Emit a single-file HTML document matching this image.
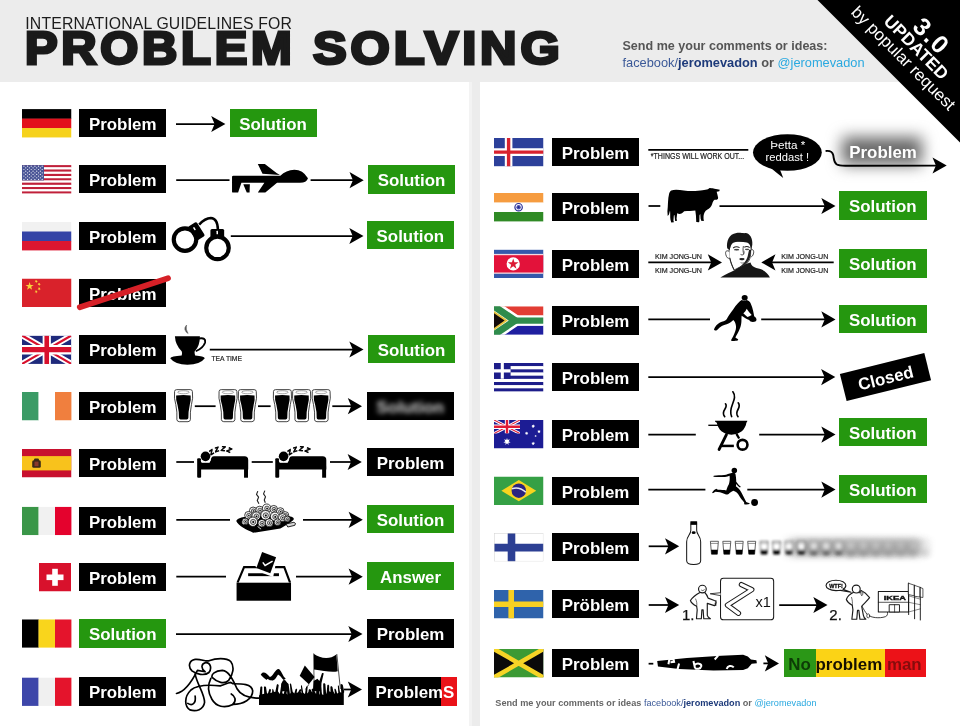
<!DOCTYPE html>
<html lang="en">
<head>
<meta charset="utf-8">
<title>International Guidelines for Problem Solving</title>
<style>
html,body{margin:0;padding:0;}
body{width:960px;height:726px;overflow:hidden;background:#ececec;font-family:"Liberation Sans",sans-serif;}
#page{opacity:0.999;position:relative;width:960px;height:726px;overflow:hidden;background:#ececec;}
.panel{position:absolute;top:82px;height:644px;background:#fff;}
#pl{left:0;width:472px;background:linear-gradient(90deg,#fff 0,#fff 469px,#f3f3f3 469px,#f3f3f3 100%);}
#pr{left:480px;width:480px;}
.t1{position:absolute;left:25.3px;top:14.5px;letter-spacing:0.15px;font-size:15.8px;line-height:18px;color:#1c1c1c;white-space:nowrap;transform-origin:0 0;}
.t2{position:absolute;top:21.2px;font-size:45.5px;line-height:56px;font-weight:bold;color:#1a1a1a;white-space:nowrap;transform-origin:0 0;-webkit-text-stroke:3px #1a1a1a;letter-spacing:3.5px;}
.b{position:absolute;width:87.1px;height:28.3px;line-height:32.2px;background:#000;color:#fff;font-weight:bold;font-size:16.9px;text-align:center;white-space:nowrap;}
.g{background:#25970f;}
.f{position:absolute;width:49.5px;height:28.5px;overflow:hidden;}
.f svg{display:block;width:100%;height:100%;}
#art{position:absolute;left:0;top:0;}
.hd{position:absolute;white-space:nowrap;font-weight:bold;font-size:11.5px;color:#555;}
.fb{color:#3b5998;}
.fbd{color:#1d3a7a;}
.tw{color:#2aa9e0;}
</style>
</head>
<body>
<div id="page">
<div class="panel" id="pl"></div>
<div class="panel" id="pr"></div>

<div class="t1">INTERNATIONAL GUIDELINES FOR</div>
<div class="t2" style="left:24.5px;transform:scaleX(1.073)">PROBLEM</div>
<div class="t2" style="left:313px;transform:scaleX(1.109)">SOLVING</div>

<div class="hd" id="h1" style="left:622.5px;top:38.5px;font-size:12.55px;">Send me your comments or ideas:</div>
<div class="hd" id="h2" style="left:622.5px;top:55px;font-size:12.8px;"><span class="fb" style="font-weight:normal">facebook/</span><span class="fbd">jeromevadon</span> or <span class="tw" style="font-weight:normal">@jeromevadon</span></div>

<!-- LEFT COLUMN BOXES -->
<div class="b" style="left:79.2px;top:109.1px">Problem</div>
<div class="b g" style="left:229.5px;top:109.1px">Solution</div>
<div class="b" style="left:79.2px;top:165.1px">Problem</div>
<div class="b g" style="left:368px;top:165.3px">Solution</div>
<div class="b" style="left:79.2px;top:222px">Problem</div>
<div class="b g" style="left:366.8px;top:221px">Solution</div>
<div class="b" style="left:79.2px;top:278.5px">Problem</div>
<div class="b" style="left:79.2px;top:335.4px">Problem</div>
<div class="b g" style="left:368px;top:335px">Solution</div>
<div class="b" style="left:79.2px;top:392px">Problem</div>
<div class="b" style="left:79.2px;top:449px">Problem</div>
<div class="b" style="left:367px;top:447.5px">Problem</div>
<div class="b" style="left:79.2px;top:506.7px">Problem</div>
<div class="b g" style="left:367px;top:505px">Solution</div>
<div class="b" style="left:79.2px;top:563px">Problem</div>
<div class="b g" style="left:367px;top:562px">Answer</div>
<div class="b g" style="left:79.2px;top:619.3px">Solution</div>
<div class="b" style="left:367px;top:619.4px">Problem</div>
<div class="b" style="left:79.2px;top:677.4px">Problem</div>

<!-- RIGHT COLUMN BOXES -->
<div class="b" style="left:552px;top:137.9px">Problem</div>
<div class="b" style="left:552px;top:193px">Problem</div>
<div class="b g" style="left:839px;top:191.3px;width:87.5px">Solution</div>
<div class="b" style="left:552px;top:249.6px">Problem</div>
<div class="b g" style="left:839px;top:249.3px;width:87.5px">Solution</div>
<div class="b" style="left:552px;top:306.3px">Problem</div>
<div class="b g" style="left:839px;top:305px;width:87.5px">Solution</div>
<div class="b" style="left:552px;top:363px">Problem</div>
<div class="b" style="left:552px;top:420px">Problem</div>
<div class="b g" style="left:839px;top:418px;width:87.5px">Solution</div>
<div class="b" style="left:552px;top:476.5px">Problem</div>
<div class="b g" style="left:839px;top:475.2px;width:87.5px">Solution</div>
<div class="b" style="left:552px;top:533px">Problem</div>
<div class="b" style="left:552px;top:590px">Pröblem</div>
<div class="b" style="left:552px;top:649px">Problem</div>

<!-- SPECIAL BOXES -->
<div class="b" style="left:366.5px;top:391.6px;width:87.5px;height:28.2px"><span style="display:inline-block;filter:blur(2.7px);color:#d0d0d0">Solution</span></div>
<div class="b" style="left:368px;top:677.3px;width:88.5px;text-align:left;background:linear-gradient(90deg,#000 0,#000 73.2px,#ea1218 73.2px,#ea1218 100%)"><span style="padding-left:7.5px">ProblemS</span></div>
<div class="b" style="left:841.7px;top:362.9px;transform:rotate(-13.9deg)">Closed</div>
<div style="position:absolute;left:842px;top:137px;width:80px;height:28px;background:#686868;filter:blur(7.5px)"></div>
<div class="b" style="left:839.5px;top:137px;background:none">Problem</div>
<div class="b" style="left:784.2px;top:649.2px;width:141.6px;height:28.3px;color:#161000;background:linear-gradient(90deg,#2b9717 0,#2b9717 31.6px,#fbd316 31.6px,#fbd316 100.8px,#ec1218 100.8px,#ec1218 100%)"><span style="color:#0d3b06">No</span> problem <span style="color:#860c0c">man</span></div>
<div class="hd" id="ft" style="left:495.3px;top:698px;font-size:9.15px;color:#666">Send me your comments or ideas <span class="fb" style="font-weight:normal">facebook/</span><span class="fbd">jeromevadon</span> or <span class="tw" style="font-weight:normal">@jeromevadon</span></div>

<svg id="art" width="960" height="726" viewBox="0 0 960 726">
<defs>
<path id="hd" d="M0,0 L-14.2,-8.1 L-10.8,0 L-14.2,8.1 Z" fill="#000" stroke="none"/>
</defs>
<g id="flags">
<svg x="22" y="109.1" width="49.5" height="28.5" viewBox="0 0 49.5 28.5" overflow="hidden"><rect x="0" y="0.00" width="49.5" height="9.80" fill="#000"/><rect x="0" y="9.50" width="49.5" height="9.80" fill="#e3101c"/><rect x="0" y="19.00" width="49.5" height="9.80" fill="#f6d21c"/></svg>
<svg x="22" y="165.1" width="49.5" height="28.5" viewBox="0 0 49.5 28.5" overflow="hidden"><rect x="0" y="0.00" width="49.5" height="2.39" fill="#c0203a"/><rect x="0" y="2.19" width="49.5" height="2.39" fill="#fff"/><rect x="0" y="4.38" width="49.5" height="2.39" fill="#c0203a"/><rect x="0" y="6.58" width="49.5" height="2.39" fill="#fff"/><rect x="0" y="8.77" width="49.5" height="2.39" fill="#c0203a"/><rect x="0" y="10.96" width="49.5" height="2.39" fill="#fff"/><rect x="0" y="13.15" width="49.5" height="2.39" fill="#c0203a"/><rect x="0" y="15.35" width="49.5" height="2.39" fill="#fff"/><rect x="0" y="17.54" width="49.5" height="2.39" fill="#c0203a"/><rect x="0" y="19.73" width="49.5" height="2.39" fill="#fff"/><rect x="0" y="21.92" width="49.5" height="2.39" fill="#c0203a"/><rect x="0" y="24.12" width="49.5" height="2.39" fill="#fff"/><rect x="0" y="26.31" width="49.5" height="2.39" fill="#c0203a"/><rect x="0" y="0" width="22" height="15.35" fill="#4a5596"/><circle cx="1.90" cy="1.10" r="0.62" fill="#e8eaf4"/><circle cx="5.56" cy="1.10" r="0.62" fill="#e8eaf4"/><circle cx="9.22" cy="1.10" r="0.62" fill="#e8eaf4"/><circle cx="12.88" cy="1.10" r="0.62" fill="#e8eaf4"/><circle cx="16.54" cy="1.10" r="0.62" fill="#e8eaf4"/><circle cx="20.20" cy="1.10" r="0.62" fill="#e8eaf4"/><circle cx="3.73" cy="2.75" r="0.62" fill="#e8eaf4"/><circle cx="7.39" cy="2.75" r="0.62" fill="#e8eaf4"/><circle cx="11.05" cy="2.75" r="0.62" fill="#e8eaf4"/><circle cx="14.71" cy="2.75" r="0.62" fill="#e8eaf4"/><circle cx="18.37" cy="2.75" r="0.62" fill="#e8eaf4"/><circle cx="1.90" cy="4.40" r="0.62" fill="#e8eaf4"/><circle cx="5.56" cy="4.40" r="0.62" fill="#e8eaf4"/><circle cx="9.22" cy="4.40" r="0.62" fill="#e8eaf4"/><circle cx="12.88" cy="4.40" r="0.62" fill="#e8eaf4"/><circle cx="16.54" cy="4.40" r="0.62" fill="#e8eaf4"/><circle cx="20.20" cy="4.40" r="0.62" fill="#e8eaf4"/><circle cx="3.73" cy="6.05" r="0.62" fill="#e8eaf4"/><circle cx="7.39" cy="6.05" r="0.62" fill="#e8eaf4"/><circle cx="11.05" cy="6.05" r="0.62" fill="#e8eaf4"/><circle cx="14.71" cy="6.05" r="0.62" fill="#e8eaf4"/><circle cx="18.37" cy="6.05" r="0.62" fill="#e8eaf4"/><circle cx="1.90" cy="7.70" r="0.62" fill="#e8eaf4"/><circle cx="5.56" cy="7.70" r="0.62" fill="#e8eaf4"/><circle cx="9.22" cy="7.70" r="0.62" fill="#e8eaf4"/><circle cx="12.88" cy="7.70" r="0.62" fill="#e8eaf4"/><circle cx="16.54" cy="7.70" r="0.62" fill="#e8eaf4"/><circle cx="20.20" cy="7.70" r="0.62" fill="#e8eaf4"/><circle cx="3.73" cy="9.35" r="0.62" fill="#e8eaf4"/><circle cx="7.39" cy="9.35" r="0.62" fill="#e8eaf4"/><circle cx="11.05" cy="9.35" r="0.62" fill="#e8eaf4"/><circle cx="14.71" cy="9.35" r="0.62" fill="#e8eaf4"/><circle cx="18.37" cy="9.35" r="0.62" fill="#e8eaf4"/><circle cx="1.90" cy="11.00" r="0.62" fill="#e8eaf4"/><circle cx="5.56" cy="11.00" r="0.62" fill="#e8eaf4"/><circle cx="9.22" cy="11.00" r="0.62" fill="#e8eaf4"/><circle cx="12.88" cy="11.00" r="0.62" fill="#e8eaf4"/><circle cx="16.54" cy="11.00" r="0.62" fill="#e8eaf4"/><circle cx="20.20" cy="11.00" r="0.62" fill="#e8eaf4"/><circle cx="3.73" cy="12.65" r="0.62" fill="#e8eaf4"/><circle cx="7.39" cy="12.65" r="0.62" fill="#e8eaf4"/><circle cx="11.05" cy="12.65" r="0.62" fill="#e8eaf4"/><circle cx="14.71" cy="12.65" r="0.62" fill="#e8eaf4"/><circle cx="18.37" cy="12.65" r="0.62" fill="#e8eaf4"/><circle cx="1.90" cy="14.30" r="0.62" fill="#e8eaf4"/><circle cx="5.56" cy="14.30" r="0.62" fill="#e8eaf4"/><circle cx="9.22" cy="14.30" r="0.62" fill="#e8eaf4"/><circle cx="12.88" cy="14.30" r="0.62" fill="#e8eaf4"/><circle cx="16.54" cy="14.30" r="0.62" fill="#e8eaf4"/><circle cx="20.20" cy="14.30" r="0.62" fill="#e8eaf4"/></svg>
<svg x="22" y="222" width="49.5" height="28.5" viewBox="0 0 49.5 28.5" overflow="hidden"><rect x="0" y="0.00" width="49.5" height="9.80" fill="#f1f1f1"/><rect x="0" y="9.50" width="49.5" height="9.80" fill="#3443a6"/><rect x="0" y="19.00" width="49.5" height="9.80" fill="#dc1630"/></svg>
<svg x="22" y="278.5" width="49.5" height="28.5" viewBox="0 0 49.5 28.5" overflow="hidden"><rect width="49.5" height="28.5" fill="#d9222b"/><polygon points="7.60,3.50 8.57,6.47 11.69,6.47 9.16,8.31 10.13,11.28 7.60,9.44 5.07,11.28 6.04,8.31 3.51,6.47 6.63,6.47" fill="#f9d23c"/><polygon points="15.10,1.34 14.83,2.62 15.96,3.27 14.66,3.41 14.39,4.69 13.86,3.50 12.56,3.63 13.53,2.76 13.00,1.56 14.13,2.22" fill="#f9d23c"/><polygon points="18.10,4.24 17.83,5.52 18.96,6.17 17.66,6.31 17.39,7.59 16.86,6.40 15.56,6.53 16.53,5.66 16.00,4.46 17.13,5.12" fill="#f9d23c"/><polygon points="18.10,8.74 17.83,10.02 18.96,10.67 17.66,10.81 17.39,12.09 16.86,10.90 15.56,11.03 16.53,10.16 16.00,8.96 17.13,9.62" fill="#f9d23c"/><polygon points="15.10,11.64 14.83,12.92 15.96,13.57 14.66,13.71 14.39,14.99 13.86,13.80 12.56,13.93 13.53,13.06 13.00,11.86 14.13,12.52" fill="#f9d23c"/></svg>
<svg x="22" y="335.4" width="49.5" height="28.5" viewBox="0 0 49.5 28.5" overflow="hidden"><svg x="0" y="0" width="49.5" height="28.5" viewBox="0 0 60 30" preserveAspectRatio="none" overflow="hidden"><rect width="60" height="30" fill="#1f2a7c"/><path d="M0,0 L60,30 M60,0 L0,30" stroke="#fff" stroke-width="6.5"/><path d="M0,0 L60,30 M60,0 L0,30" stroke="#d8102d" stroke-width="2.4"/><path d="M30,0 V30 M0,15 H60" stroke="#fff" stroke-width="10"/><path d="M30,0 V30 M0,15 H60" stroke="#d8102d" stroke-width="5.6"/></svg></svg>
<svg x="22" y="392" width="49.5" height="28.5" viewBox="0 0 49.5 28.5" overflow="hidden"><rect x="0.00" y="0" width="16.80" height="28.5" fill="#3b9b66"/><rect x="16.50" y="0" width="16.80" height="28.5" fill="#ffffff"/><rect x="33.00" y="0" width="16.80" height="28.5" fill="#f07f3e"/></svg>
<svg x="22" y="449" width="49.5" height="28.5" viewBox="0 0 49.5 28.5" overflow="hidden"><rect width="49.5" height="28.5" fill="#c8102e"/><rect y="7.1" width="49.5" height="14.3" fill="#f8c21c"/><g fill="#3a2a18"><rect x="10.2" y="11.2" width="8.6" height="7.6" rx="1.5"/><rect x="12" y="9.6" width="5" height="3" rx="1.2"/></g><rect x="12.5" y="12.6" width="4" height="4.6" fill="#8a3a2a"/></svg>
<svg x="22" y="506.7" width="49.5" height="28.5" viewBox="0 0 49.5 28.5" overflow="hidden"><rect x="0.00" y="0" width="16.80" height="28.5" fill="#3a9648"/><rect x="16.50" y="0" width="16.80" height="28.5" fill="#f1f1f1"/><rect x="33.00" y="0" width="16.80" height="28.5" fill="#e4022d"/></svg>
<svg x="39" y="563" width="32" height="28.5" viewBox="0 0 32 28.5" overflow="hidden"><rect width="32" height="28.5" fill="#d8112c"/><rect x="13.2" y="5.8" width="5.6" height="17" fill="#fff"/><rect x="7.5" y="11.5" width="17" height="5.6" fill="#fff"/></svg>
<svg x="22" y="619.3" width="49.5" height="28.5" viewBox="0 0 49.5 28.5" overflow="hidden"><rect x="0.00" y="0" width="16.80" height="28.5" fill="#000"/><rect x="16.50" y="0" width="16.80" height="28.5" fill="#f9d51c"/><rect x="33.00" y="0" width="16.80" height="28.5" fill="#e4142c"/></svg>
<svg x="22" y="677.4" width="49.5" height="28.5" viewBox="0 0 49.5 28.5" overflow="hidden"><rect x="0.00" y="0" width="16.80" height="28.5" fill="#3d46a9"/><rect x="16.50" y="0" width="16.80" height="28.5" fill="#f0f0f0"/><rect x="33.00" y="0" width="16.80" height="28.5" fill="#e4142c"/></svg>
<svg x="494" y="137.9" width="49.5" height="28.5" viewBox="0 0 49.5 28.5" overflow="hidden"><rect width="49.5" height="28.5" fill="#2c409a"/><path d="M14.6,0 V28.5 M0,14.2 H49.5" stroke="#fff" stroke-width="7.6"/><path d="M14.6,0 V28.5 M0,14.2 H49.5" stroke="#d8222f" stroke-width="3.4"/></svg>
<svg x="494" y="193" width="49.5" height="28.5" viewBox="0 0 49.5 28.5" overflow="hidden"><rect x="0" y="0.00" width="49.5" height="9.80" fill="#f69c40"/><rect x="0" y="9.50" width="49.5" height="9.80" fill="#ffffff"/><rect x="0" y="19.00" width="49.5" height="9.80" fill="#2f8a25"/><circle cx="24.6" cy="14.2" r="3.7" fill="#fff" stroke="#2a2f95" stroke-width="1.2"/><circle cx="24.6" cy="14.2" r="2.2" fill="#4a4fae"/><circle cx="24.6" cy="14.2" r="0.9" fill="#1e2285"/></svg>
<svg x="494" y="249.6" width="49.5" height="28.5" viewBox="0 0 49.5 28.5" overflow="hidden"><rect width="49.5" height="28.5" fill="#3558aa"/><rect y="4.3" width="49.5" height="19.9" fill="#f4d8e0"/><rect y="5.6" width="49.5" height="17.3" fill="#e3123a"/><circle cx="19.2" cy="14.3" r="6.6" fill="#fff"/><polygon points="19.20,8.90 20.46,12.77 24.53,12.77 21.23,15.16 22.49,19.03 19.20,16.64 15.91,19.03 17.17,15.16 13.87,12.77 17.94,12.77" fill="#dc1a35"/></svg>
<svg x="494" y="306.3" width="49.5" height="28.5" viewBox="0 0 49.5 28.5" overflow="hidden"><rect width="49.5" height="28.5" fill="#fff"/><rect width="49.5" height="9.2" fill="#e23d34"/><rect y="19.3" width="49.5" height="9.2" fill="#1f1fa0"/><path d="M0,0 L21,14.25 L0,28.5" fill="none" stroke="#fff" stroke-width="12"/><path d="M21,14.25 H49.5" stroke="#fff" stroke-width="10.2"/><path d="M-3,-2 L21,14.25 L-3,30.5" fill="none" stroke="#2f8c4c" stroke-width="7"/><path d="M20,14.25 H49.5" stroke="#2f8c4c" stroke-width="6.2"/><polygon points="0,4.6 13.8,14.25 0,23.9" fill="#e6c23c"/><polygon points="0,6.9 10.6,14.25 0,21.6" fill="#120a0a"/></svg>
<svg x="494" y="363" width="49.5" height="28.5" viewBox="0 0 49.5 28.5" overflow="hidden"><rect x="0" y="0.00" width="49.5" height="3.37" fill="#1d1d8a"/><rect x="0" y="3.17" width="49.5" height="3.37" fill="#fff"/><rect x="0" y="6.33" width="49.5" height="3.37" fill="#1d1d8a"/><rect x="0" y="9.50" width="49.5" height="3.37" fill="#fff"/><rect x="0" y="12.67" width="49.5" height="3.37" fill="#1d1d8a"/><rect x="0" y="15.83" width="49.5" height="3.37" fill="#fff"/><rect x="0" y="19.00" width="49.5" height="3.37" fill="#1d1d8a"/><rect x="0" y="22.17" width="49.5" height="3.37" fill="#fff"/><rect x="0" y="25.33" width="49.5" height="3.37" fill="#1d1d8a"/><rect width="16.6" height="15.83" fill="#1d1d8a"/><path d="M8.3,0 V15.83 M0,7.92 H16.6" stroke="#fff" stroke-width="3.1"/></svg>
<svg x="494" y="420" width="49.5" height="28.5" viewBox="0 0 49.5 28.5" overflow="hidden"><rect width="49.5" height="28.5" fill="#1c1c94"/><svg x="0" y="0" width="26" height="13.6" viewBox="0 0 60 30" preserveAspectRatio="none" overflow="hidden"><rect width="60" height="30" fill="#1c1c94"/><path d="M0,0 L60,30 M60,0 L0,30" stroke="#fff" stroke-width="6.5"/><path d="M0,0 L60,30 M60,0 L0,30" stroke="#e01a35" stroke-width="2.4"/><path d="M30,0 V30 M0,15 H60" stroke="#fff" stroke-width="10"/><path d="M30,0 V30 M0,15 H60" stroke="#e01a35" stroke-width="5.6"/></svg><polygon points="13.00,17.90 13.74,20.07 15.89,19.29 14.66,21.22 16.61,22.42 14.33,22.66 14.61,24.93 13.00,23.30 11.39,24.93 11.67,22.66 9.39,22.42 11.34,21.22 10.11,19.29 12.26,20.07" fill="#fff"/><polygon points="39.20,4.30 39.61,5.34 40.69,5.02 40.13,5.99 41.05,6.62 39.94,6.79 40.02,7.91 39.20,7.15 38.38,7.91 38.46,6.79 37.35,6.62 38.27,5.99 37.71,5.02 38.79,5.34" fill="#fff"/><polygon points="32.60,11.60 32.99,12.59 34.01,12.28 33.48,13.20 34.35,13.80 33.30,13.96 33.38,15.02 32.60,14.30 31.82,15.02 31.90,13.96 30.85,13.80 31.72,13.20 31.19,12.28 32.21,12.59" fill="#fff"/><polygon points="45.00,9.80 45.39,10.79 46.41,10.48 45.88,11.40 46.75,12.00 45.70,12.16 45.78,13.22 45.00,12.50 44.22,13.22 44.30,12.16 43.25,12.00 44.12,11.40 43.59,10.48 44.61,10.79" fill="#fff"/><polygon points="41.60,14.80 41.86,15.46 42.54,15.25 42.18,15.87 42.77,16.27 42.07,16.37 42.12,17.08 41.60,16.60 41.08,17.08 41.13,16.37 40.43,16.27 41.02,15.87 40.66,15.25 41.34,15.46" fill="#fff"/><polygon points="39.20,21.60 39.61,22.64 40.69,22.32 40.13,23.29 41.05,23.92 39.94,24.09 40.02,25.21 39.20,24.45 38.38,25.21 38.46,24.09 37.35,23.92 38.27,23.29 37.71,22.32 38.79,22.64" fill="#fff"/></svg>
<svg x="494" y="476.5" width="49.5" height="28.5" viewBox="0 0 49.5 28.5" overflow="hidden"><rect width="49.5" height="28.5" fill="#35a045"/><polygon points="7.4,14.2 24.8,3.6 42.2,14.2 24.8,24.8" fill="#f7d41f"/><circle cx="24.8" cy="14.2" r="7.2" fill="#2b2480"/><path d="M18,12.2 Q25,9.8 31.8,15.6" fill="none" stroke="#e8e8f4" stroke-width="1.5"/></svg>
<svg x="494" y="533" width="49.5" height="28.5" viewBox="0 0 49.5 28.5" overflow="hidden"><rect width="49.5" height="28.5" fill="#fff"/><path d="M17.5,0 V28.5 M0,14.6 H49.5" stroke="#2c3f93" stroke-width="7.6"/><rect x="0.25" y="0.25" width="49.0" height="28.0" fill="none" stroke="#d4d4d4" stroke-width="0.6"/></svg>
<svg x="494" y="590" width="49.5" height="28.5" viewBox="0 0 49.5 28.5" overflow="hidden"><rect width="49.5" height="28.5" fill="#2f63ab"/><path d="M17.2,0 V28.5 M0,14.2 H49.5" stroke="#f8d022" stroke-width="5.6"/></svg>
<svg x="494" y="649" width="49.5" height="28.5" viewBox="0 0 49.5 28.5" overflow="hidden"><rect width="49.5" height="28.5" fill="#3c9a34"/><polygon points="0,0 24.75,14.25 0,28.5" fill="#0a0a0a"/><polygon points="49.5,0 24.75,14.25 49.5,28.5" fill="#0a0a0a"/><path d="M0,0 L49.5,28.5 M49.5,0 L0,28.5" stroke="#f6d426" stroke-width="4.6"/></svg>
</g>
<g id="ribbon">
<polygon points="817.5,0 960,0 960,142.5" fill="#000"/>
<text transform="translate(899.5,62.2) rotate(45)" text-anchor="middle" font-family="Liberation Sans, sans-serif" font-size="16.8" font-weight="normal" fill="#fff" letter-spacing="0">by popular request</text>
<text transform="translate(912.1,51.5) rotate(45)" text-anchor="middle" font-family="Liberation Sans, sans-serif" font-size="17.4" font-weight="bold" fill="#fff" letter-spacing="0">UPDATED</text>
<text transform="translate(925.6,42.4) rotate(45)" text-anchor="middle" font-family="Liberation Sans, sans-serif" font-size="25" font-weight="bold" fill="#fff" letter-spacing="2">3.0</text>
</g>
<g id="arrows" stroke="#000" stroke-width="1.75" fill="none">
<path d="M176,124H216.4"/><use href="#hd" x="225.4" y="124"/>
<path d="M176.2,180.2H229.5"/>
<path d="M310.6,180.2H354.7"/><use href="#hd" x="363.7" y="180.2"/>
<path d="M230.8,236H354.5"/><use href="#hd" x="363.5" y="236"/>
<path d="M209.8,349.5H354.5"/><use href="#hd" x="363.5" y="349.5"/>
<path d="M194.8,406.2H215.6"/>
<path d="M258,406.2H270.6"/>
<path d="M332.3,406.2H353"/><use href="#hd" x="362" y="406.2"/>
<path d="M176.3,462H194"/>
<path d="M251.7,462H272.8"/>
<path d="M330,462H352.8"/><use href="#hd" x="361.8" y="462"/>
<path d="M176.3,519.8H230"/>
<path d="M303,519.8H353.8"/><use href="#hd" x="362.8" y="519.8"/>
<path d="M176.3,576.7H226"/>
<path d="M296,576.7H353.8"/><use href="#hd" x="362.8" y="576.7"/>
<path d="M176,634H353.5"/><use href="#hd" x="362.5" y="634"/>
<path d="M343.8,689.5H353"/><use href="#hd" x="362" y="689.5"/>
<path d="M648.3,149.8H748.3"/>
<path d="M648.5,206H660.3"/>
<path d="M719.5,206H826.5"/><use href="#hd" x="835.5" y="206"/>
<path d="M648.3,262.4H713"/><use href="#hd" x="722" y="262.4"/>
<path d="M833.7,262.4H770.3"/><use href="#hd" transform="translate(761.3,262.4) scale(-1,1)"/>
<path d="M648.3,319.4H710"/>
<path d="M761.2,319.4H826.5"/><use href="#hd" x="835.5" y="319.4"/>
<path d="M648.3,377.1H826.3"/><use href="#hd" x="835.3" y="377.1"/>
<path d="M648.3,434.6H695.8"/>
<path d="M759.2,434.6H826.5"/><use href="#hd" x="835.5" y="434.6"/>
<path d="M648.3,489.6H705.4"/>
<path d="M747.3,489.6H826.5"/><use href="#hd" x="835.5" y="489.6"/>
<path d="M648.7,546.3H670.2"/><use href="#hd" x="679.2" y="546.3"/>
<path d="M648.7,605H670.2"/><use href="#hd" x="679.2" y="605"/>
<path d="M779.2,605H818.5"/><use href="#hd" x="827.5" y="605"/>
<path d="M648.6,663.7H653.3"/>
<path d="M763.4,663.4H770"/><use href="#hd" x="779" y="663.4"/>
</g>
<g id="icons">
<!-- USA: drone -->
<g transform="translate(225,158) scale(0.09375)" fill="#000">
<path d="M75,200 Q75,190 90,190 L590,190 Q650,130 740,125 Q830,125 885,215 Q870,262 800,265 L555,265 L430,368 L350,368 L420,265 L175,265 L140,368 L80,368 Q75,368 75,360 Z"/>
<path d="M350,65 L425,65 L550,160 L585,182 L400,168 Z"/>
<path d="M195,280 L265,280 L262,368 L232,368 Z"/>
</g>
<!-- Russia: handcuffs -->
<g transform="translate(165,210) scale(0.083333)" fill="none" stroke="#000">
<circle cx="240" cy="355" r="135" stroke-width="50"/>
<circle cx="630" cy="455" r="135" stroke-width="50"/>
<path d="M410,175 Q480,100 550,97 Q630,100 635,235" stroke-width="30"/>
<g transform="translate(372,250) rotate(-32)"><rect x="-62" y="-92" width="124" height="200" rx="20" fill="#000" stroke="none"/><rect x="-12" y="-52" width="18" height="40" rx="6" fill="#fff" stroke="none"/></g>
<rect x="545" y="228" width="165" height="105" rx="18" fill="#000" stroke="none"/>
<rect x="618" y="248" width="18" height="42" rx="6" fill="#fff" stroke="none"/>
</g>
<!-- China: strike -->
<path d="M79.8,307.2 L168,278.2" stroke="#d62027" stroke-width="5.8" stroke-linecap="round" fill="none"/>
<!-- UK: tea cup -->
<g transform="translate(165,320) scale(0.1041667)">
<path d="M95,155 L335,155 Q335,250 285,300 Q280,320 290,345 L160,345 Q170,320 160,300 Q100,240 95,155 Z" fill="#000"/>
<path d="M325,178 Q395,165 385,215 Q370,265 295,300" fill="none" stroke="#000" stroke-width="18"/>
<path d="M50,368 Q60,345 160,340 L290,340 Q375,345 382,368 Q340,428 215,430 Q95,428 50,368 Z" fill="#000"/>
<path d="M207,48 Q165,92 222,130 Q195,90 207,48 Z" fill="#555" stroke="#555" stroke-width="5" stroke-linejoin="round"/>
</g>
<text x="211.4" y="361" font-family="Liberation Sans, sans-serif" font-size="7.7" fill="#222" stroke="#222" stroke-width="0.2" textLength="30.6" lengthAdjust="spacingAndGlyphs">TEA TIME</text>
<!-- Ireland: beer glasses -->
<defs>
<g id="pint">
<path d="M105,120 Q105,90 140,90 L355,90 Q390,90 390,120 Q405,230 375,330 Q350,450 358,570 Q355,600 320,603 L180,603 Q145,600 142,570 Q150,450 125,330 Q92,230 105,120 Z" fill="#fff" stroke="#2c2c2c" stroke-width="14"/>
<path d="M130,185 Q245,165 362,185 Q372,250 348,335 Q322,450 326,545 Q322,565 300,567 L200,567 Q178,565 176,545 Q180,450 152,335 Q122,250 130,185 Z" fill="#000"/>
<ellipse cx="247" cy="132" rx="92" ry="24" fill="none" stroke="#555" stroke-width="8"/>
</g>
</defs>
<g>
<use href="#pint" transform="translate(168,384) scale(0.0625)"/>
<use href="#pint" transform="translate(212.5,384) scale(0.0625)"/>
<use href="#pint" transform="translate(231.9,384) scale(0.0625)"/>
<use href="#pint" transform="translate(266.9,384) scale(0.0625)"/>
<use href="#pint" transform="translate(286.1,384) scale(0.0625)"/>
<use href="#pint" transform="translate(305.7,384) scale(0.0625)"/>
</g>
<!-- Spain: beds -->
<defs>
<g id="bed">
<rect x="280" y="222" width="38" height="188" rx="10" fill="#000"/>
<rect x="730" y="300" width="38" height="110" fill="#000"/>
<path d="M300,262 L400,262 L415,222 Q420,205 440,205 L735,205 Q770,205 770,240 L770,330 L300,330 Z" fill="#000"/>
<circle cx="360" cy="205" r="52" fill="#fff"/>
<path d="M318,240 L328,262 L395,262 L410,232" fill="none" stroke="#fff" stroke-width="10"/>
<circle cx="360" cy="205" r="46" fill="#000"/>
<path id="zp" d="M400,150 Q510,75 625,160" fill="none"/>
</g>
</defs>
<g>
<use href="#bed" transform="translate(168,435) scale(0.1041667)"/>
<use href="#bed" transform="translate(246.1,435) scale(0.1041667)"/>
<text font-family="Liberation Sans, sans-serif" font-weight="bold" font-style="italic" font-size="6.6" letter-spacing="1.5" fill="#000" stroke="#000" stroke-width="0.7"><textPath href="#zp1">ZZZZ</textPath></text>
<text font-family="Liberation Sans, sans-serif" font-weight="bold" font-style="italic" font-size="6.6" letter-spacing="1.5" fill="#000" stroke="#000" stroke-width="0.7"><textPath href="#zp2">ZZZZ</textPath></text>
<path id="zp1" d="M211,455.6 Q223,445.8 235,456.4" fill="none"/>
<path id="zp2" d="M289.1,455.6 Q301.1,445.8 313.1,456.4" fill="none"/>
</g>
<!-- Italy: pasta -->
<g transform="translate(225,485) scale(0.09375)">
<path d="M120,385 C130,350 200,335 300,330 L640,325 C700,330 735,345 735,362 C720,395 640,430 590,465 L300,510 C240,480 140,440 120,385 Z" fill="#000"/>
<circle cx="300" cy="275" r="40" fill="#fafafa" stroke="#000" stroke-width="8"/><circle cx="303" cy="277" r="22" fill="#d0d0d0" stroke="#111" stroke-width="7"/><circle cx="304" cy="278" r="8" fill="#000"/>
<circle cx="370" cy="268" r="42" fill="#fafafa" stroke="#000" stroke-width="8"/><circle cx="373" cy="270" r="23" fill="#d0d0d0" stroke="#111" stroke-width="7"/><circle cx="374" cy="271" r="8" fill="#000"/>
<circle cx="445" cy="248" r="46" fill="#fafafa" stroke="#000" stroke-width="8"/><circle cx="448" cy="250" r="25" fill="#d0d0d0" stroke="#111" stroke-width="7"/><circle cx="449" cy="251" r="9" fill="#000"/>
<circle cx="520" cy="258" r="40" fill="#fafafa" stroke="#000" stroke-width="8"/><circle cx="523" cy="260" r="22" fill="#d0d0d0" stroke="#111" stroke-width="7"/><circle cx="524" cy="261" r="8" fill="#000"/>
<circle cx="590" cy="282" r="40" fill="#fafafa" stroke="#000" stroke-width="8"/><circle cx="593" cy="284" r="22" fill="#d0d0d0" stroke="#111" stroke-width="7"/><circle cx="594" cy="285" r="8" fill="#000"/>
<circle cx="642" cy="322" r="38" fill="#fafafa" stroke="#000" stroke-width="8"/><circle cx="645" cy="324" r="21" fill="#d0d0d0" stroke="#111" stroke-width="7"/><circle cx="646" cy="325" r="8" fill="#000"/>
<circle cx="250" cy="322" r="40" fill="#fafafa" stroke="#000" stroke-width="8"/><circle cx="253" cy="324" r="22" fill="#d0d0d0" stroke="#111" stroke-width="7"/><circle cx="254" cy="325" r="8" fill="#000"/>
<circle cx="332" cy="332" r="45" fill="#fafafa" stroke="#000" stroke-width="8"/><circle cx="335" cy="334" r="25" fill="#d0d0d0" stroke="#111" stroke-width="7"/><circle cx="336" cy="335" r="9" fill="#000"/>
<circle cx="432" cy="322" r="50" fill="#fafafa" stroke="#000" stroke-width="8"/><circle cx="435" cy="324" r="28" fill="#d0d0d0" stroke="#111" stroke-width="7"/><circle cx="436" cy="325" r="10" fill="#000"/>
<circle cx="532" cy="337" r="48" fill="#fafafa" stroke="#000" stroke-width="8"/><circle cx="535" cy="339" r="26" fill="#d0d0d0" stroke="#111" stroke-width="7"/><circle cx="536" cy="340" r="10" fill="#000"/>
<circle cx="612" cy="347" r="42" fill="#fafafa" stroke="#000" stroke-width="8"/><circle cx="615" cy="349" r="23" fill="#d0d0d0" stroke="#111" stroke-width="7"/><circle cx="616" cy="350" r="8" fill="#000"/>
<circle cx="665" cy="362" r="30" fill="#fafafa" stroke="#000" stroke-width="8"/><circle cx="668" cy="364" r="16" fill="#d0d0d0" stroke="#111" stroke-width="7"/><circle cx="669" cy="365" r="6" fill="#000"/>
<circle cx="215" cy="388" r="34" fill="#fafafa" stroke="#000" stroke-width="8"/><circle cx="218" cy="390" r="19" fill="#d0d0d0" stroke="#111" stroke-width="7"/><circle cx="219" cy="391" r="7" fill="#000"/>
<circle cx="297" cy="392" r="50" fill="#fafafa" stroke="#000" stroke-width="8"/><circle cx="300" cy="394" r="28" fill="#d0d0d0" stroke="#111" stroke-width="7"/><circle cx="301" cy="395" r="10" fill="#000"/>
<circle cx="392" cy="407" r="40" fill="#fafafa" stroke="#000" stroke-width="8"/><circle cx="395" cy="409" r="22" fill="#d0d0d0" stroke="#111" stroke-width="7"/><circle cx="396" cy="410" r="8" fill="#000"/>
<circle cx="472" cy="402" r="42" fill="#fafafa" stroke="#000" stroke-width="8"/><circle cx="475" cy="404" r="23" fill="#d0d0d0" stroke="#111" stroke-width="7"/><circle cx="476" cy="405" r="8" fill="#000"/>
<circle cx="560" cy="397" r="35" fill="#fafafa" stroke="#000" stroke-width="8"/><circle cx="563" cy="399" r="19" fill="#d0d0d0" stroke="#111" stroke-width="7"/><circle cx="564" cy="400" r="7" fill="#000"/>
<path d="M350,440 C360,455 370,465 385,470 M180,400 L200,415" fill="none" stroke="#fff" stroke-width="9"/>
<path d="M650,415 L735,398 L752,410 L745,430 L670,448 Z" fill="#d8d8d8" stroke="#000" stroke-width="9"/>
<path d="M350,65 L336,100 L358,130 L344,165 L362,200 M425,60 L411,95 L432,125 L419,160 L430,190" fill="none" stroke="#222" stroke-width="12" stroke-linejoin="round"/>
</g>
<!-- Switzerland: ballot box -->
<g transform="translate(225,540) scale(0.096386)">
<rect x="120" y="440" width="565" height="190" fill="#000"/>
<path d="M131,440 L198,281 L615,281 L674,440" fill="#fff" stroke="#000" stroke-width="22"/>
<rect x="240" y="345" width="320" height="30" fill="#000"/>
<path d="M300,255 L525,255 L500,385 L380,340 Z" fill="#fff"/>
<path d="M385,125 L530,180 L470,345 L325,290 Z" fill="#000"/>
<path d="M392,232 L416,264 L494,220" fill="none" stroke="#fff" stroke-width="15"/>
</g>
<!-- France: scribble -->
<g transform="translate(170,650) scale(0.104712)" fill="none" stroke="#000" stroke-width="16" stroke-linecap="round" stroke-linejoin="round">
<path d="M62,415 C140,400 200,320 262,195 L335,208 C290,175 300,130 340,120 C390,118 400,180 372,215 C330,250 250,232 210,200 C170,160 180,100 240,90 C300,82 340,118 380,100 C430,80 540,70 580,110 C620,160 600,240 560,290 C520,330 450,310 402,262 C392,230 430,200 500,195 C560,200 600,280 640,370 C680,440 760,460 852,460"/>
<path d="M240,230 C260,330 330,420 330,500 C320,570 250,592 190,572 C140,540 130,450 200,382 C260,330 380,332 480,342 C540,330 570,290 600,322 C680,322 780,320 790,390 C790,470 700,520 600,520 C640,480 620,440 585,420"/>
<path d="M600,520 C520,562 440,540 400,470 C360,400 360,330 390,270"/>
<path d="M240,440 C250,500 220,540 170,510"/>
</g>
<!-- France: crowd -->
<g transform="translate(255,650) scale(0.114583)" fill="#000">
<path d="M35,480 L35,398 L40,392 L47,322 L54,316 L64,324 L63,386 L80,381 L78,322 L86,316 L96,324 L104,375 L112,381 L124,345 L130,339 L140,347 L134,375 L149,370 L151,344 L154,338 L161,346 L165,364 L177,367 L190,303 L197,297 L207,305 L200,361 L217,384 L230,296 L236,290 L245,298 L238,378 L250,384 L262,341 L270,335 L281,343 L275,378 L282,391 L276,294 L283,288 L293,296 L305,385 L311,371 L304,296 L308,290 L316,298 L329,365 L343,379 L354,343 L360,337 L368,345 L363,373 L375,371 L388,347 L395,341 L405,349 L398,365 L406,380 L401,312 L404,306 L410,314 L421,374 L436,385 L446,323 L451,317 L459,325 L455,379 L466,367 L469,347 L478,341 L489,349 L492,361 L501,372 L494,342 L501,336 L511,344 L524,366 L533,383 L538,298 L547,292 L559,300 L560,377 L566,392 L561,300 L566,294 L574,302 L585,386 L596,392 L595,295 L603,289 L614,297 L621,386 L626,366 L631,307 L638,301 L647,309 L648,360 L659,367 L658,320 L666,314 L676,322 L683,361 L698,386 L693,343 L698,337 L706,345 L717,380 L727,375 L723,313 L726,307 L732,315 L742,369 L753,372 L746,302 L754,296 L766,304 L779,366 L775,375 L775,480 Z"/>
<path d="M232,360 L230,292 L245,265 L262,262 L285,290 L292,360 Z M505,360 L512,270 L545,250 L562,270 L585,200 L600,202 L580,290 L578,360 Z"/>
<path d="M50,215 C70,180 100,200 130,235 C160,230 175,160 210,165 C235,190 240,225 268,250 L250,262 C225,235 215,215 200,215 C185,240 170,270 140,265 C120,265 110,240 100,262 C90,250 70,240 50,215 Z"/>
<path d="M435,135 L520,235 L470,300 L390,225 Z"/>
<path d="M470,300 L440,345" stroke="#000" stroke-width="6"/>
<path d="M515,35 C560,70 650,90 710,40 L722,185 C670,200 600,180 515,170 Z"/>
<path d="M512,30 L516,330 M714,35 L745,340" stroke="#000" stroke-width="6" fill="none"/>
</g>
<!-- Iceland -->
<text x="650.8" y="159.2" font-family="Liberation Sans, sans-serif" font-size="8.2" fill="#222" stroke="#222" stroke-width="0.2" textLength="93.4" lengthAdjust="spacingAndGlyphs">*THINGS WILL WORK OUT...</text>
<ellipse cx="787.4" cy="152.5" rx="34.4" ry="18.3" fill="#000"/>
<path d="M767,165 L783.2,178 L779,167 Z" fill="#000"/>
<text x="770.2" y="148.7" font-family="Liberation Sans, sans-serif" font-size="11.6" fill="#fff" textLength="35" lengthAdjust="spacingAndGlyphs">Þetta *</text>
<text x="765.6" y="160.6" font-family="Liberation Sans, sans-serif" font-size="11.6" fill="#fff" textLength="43.6" lengthAdjust="spacingAndGlyphs">reddast !</text>
<path d="M825.6,151 C830,150.5 832.5,152 833.2,155 C834,158.5 833.5,162 836.5,164.2 C839,165.8 842,165.7 846,165.7 L937,165.6" fill="none" stroke="#000" stroke-width="1.9"/>
<use href="#hd" x="946.7" y="165.5"/>
<!-- India: cow -->
<g transform="translate(640,180) scale(0.1041667)" fill="#000">
<path d="M300,100 C330,90 380,95 420,100 C480,110 560,106 600,98 C620,94 640,92 652,88 L668,76 L690,80 C698,78 708,80 715,84 L742,88 L766,93 L761,108 L736,113 C740,130 746,150 750,170 C751,186 736,193 716,189 C704,198 698,212 692,232 C684,258 668,274 644,286 C624,296 614,318 610,345 L610,376 L616,390 L590,393 L582,372 L578,325 L571,340 L570,395 L566,405 L540,402 L537,340 L531,292 C500,296 460,296 424,300 C412,314 396,326 376,326 L357,320 L351,372 L356,390 L337,393 L331,335 L325,340 L321,392 L326,406 L300,408 L292,380 C288,350 292,320 288,292 L278,330 L266,346 L263,300 C270,250 266,180 280,130 C285,115 290,105 300,100 Z"/>
</g>
<!-- North Korea -->
<g font-family="Liberation Sans, sans-serif" font-size="7.8" fill="#222" stroke="#222" stroke-width="0.2">
<text x="655" y="258.8" textLength="47" lengthAdjust="spacingAndGlyphs">KIM JONG-UN</text>
<text x="655" y="272.8" textLength="47" lengthAdjust="spacingAndGlyphs">KIM JONG-UN</text>
<text x="781.3" y="258.8" textLength="47" lengthAdjust="spacingAndGlyphs">KIM JONG-UN</text>
<text x="781.3" y="272.8" textLength="47" lengthAdjust="spacingAndGlyphs">KIM JONG-UN</text>
</g>
<g transform="translate(710,225) scale(0.082645)">
<path d="M232,300 C225,360 240,440 290,545 L440,470 C480,440 495,380 498,300 L490,200 L260,190 Z" fill="#fff" stroke="#222" stroke-width="9"/>
<path d="M208,280 C196,200 228,108 320,96 C370,90 400,103 430,98 C482,103 518,160 512,240 L498,305 C494,245 474,222 444,212 C384,196 304,200 276,218 C252,238 246,268 238,305 Z" fill="#161616"/>
<path d="M232,320 C200,300 180,320 192,360 C200,395 220,410 240,400" fill="#fff" stroke="#222" stroke-width="10"/>
<path d="M500,300 C525,290 535,320 525,350 C520,370 510,380 498,385" fill="#fff" stroke="#222" stroke-width="10"/>
<path d="M280,278 C305,258 335,260 358,274 M415,268 C438,256 462,260 480,274" fill="none" stroke="#222" stroke-width="13"/>
<path d="M292,300 C310,292 335,292 352,300 C335,308 310,308 292,300 Z M425,294 C440,288 458,288 472,294 C458,302 440,302 425,294 Z" fill="#222" stroke="#222" stroke-width="6"/>
<path d="M404,255 C396,300 400,330 410,352 C400,364 384,364 370,356" fill="none" stroke="#222" stroke-width="10"/>
<path d="M410,300 C418,320 420,340 410,352 Z" fill="#222"/>
<path d="M352,410 C365,395 380,398 388,402 C396,398 410,396 420,410 C408,432 365,432 352,410 Z" fill="#222"/>
<path d="M370,455 C385,462 400,462 412,455" fill="none" stroke="#222" stroke-width="7"/>
<path d="M498,300 C494,380 478,440 420,480 L300,545 C380,500 440,440 455,380 C462,350 470,320 472,300 Z" fill="#222"/>
<path d="M240,400 C250,450 270,500 292,540" fill="none" stroke="#222" stroke-width="12"/>
<path d="M125,635 C200,590 260,570 300,545 C340,520 400,490 440,470 L490,455 C500,490 520,510 560,520 C640,530 700,580 725,635 Z" fill="#161616"/>
</g>
<!-- South Africa: rugby -->
<g transform="translate(700,290) scale(0.083333)" fill="#000">
<ellipse cx="536" cy="92" rx="36" ry="33"/>
<path fill-rule="evenodd" d="M500,120 C470,140 430,180 400,230 C370,270 340,310 320,350 C300,375 270,375 240,390 C210,405 180,440 168,470 C175,495 200,490 215,470 C240,440 280,420 320,410 C350,400 380,380 400,360 C420,380 440,420 430,470 C420,510 400,550 385,580 L370,605 C400,615 440,612 460,600 C455,580 430,580 425,570 C450,520 490,460 495,400 C500,370 495,340 500,310 C530,330 560,350 590,360 C600,385 640,390 670,375 C690,355 670,325 650,315 C645,280 635,220 610,165 C600,140 580,125 560,120 C550,130 520,130 500,120 Z M560,225 C575,250 600,280 620,300 C600,310 585,320 570,325 C555,310 535,295 520,280 C540,265 552,245 560,225 Z"/>
</g>
<!-- Australia: BBQ -->
<g transform="translate(690,385) scale(0.096386)" fill="#000" stroke="#000" stroke-width="0">
<path d="M258,372 L595,372 C595,380 590,388 585,392 C575,460 520,515 430,515 C345,515 290,460 278,392 C265,388 258,380 258,372 Z"/>
<path d="M190,418 L290,418" stroke-width="14" fill="none"/>
<path d="M378,515 L302,668" stroke-width="30" stroke-linecap="round" fill="none"/>
<path d="M330,632 L455,632" stroke-width="26" fill="none"/>
<path d="M482,508 L510,555" stroke-width="24" fill="none"/>
<circle cx="545" cy="620" r="51" stroke-width="27" fill="none"/>
<path d="M445,70 C505,150 385,230 432,328 M368,195 C405,240 308,270 360,328 M500,185 C545,240 448,270 498,328" stroke-width="17" stroke-linecap="round" fill="none"/>
</g>
<!-- Brazil: soccer -->
<g transform="translate(700,455) scale(0.083333)" fill="#000">
<ellipse cx="412" cy="185" rx="33" ry="31"/>
<path d="M380,215 C350,220 320,235 290,240 C250,242 200,245 165,250 L160,262 C200,265 260,265 300,265 C320,262 340,255 355,250 C360,290 355,330 345,355 C330,380 320,410 315,425 C290,420 250,420 215,418 L195,405 L170,420 L145,450 L155,460 L185,440 C220,440 260,450 290,465 C310,480 340,475 355,455 C370,445 385,435 400,430 C430,440 455,460 470,490 C485,520 510,545 530,570 L530,590 C550,598 580,595 600,585 C590,575 570,572 555,565 C535,530 520,490 500,455 C485,420 455,395 430,375 C435,365 435,355 432,345 C445,360 460,380 480,390 L490,380 C470,365 450,340 435,320 C435,290 430,250 425,225 C420,215 400,212 380,215 Z"/>
<circle cx="655" cy="570" r="41"/>
</g>
<!-- Finland -->
<defs>
<filter id="bl1" x="-50%" y="-50%" width="200%" height="200%"><feGaussianBlur stdDeviation="0.45"/></filter>
<filter id="bl2" x="-50%" y="-50%" width="200%" height="200%"><feGaussianBlur stdDeviation="0.9"/></filter>
<filter id="bl3" x="-50%" y="-50%" width="200%" height="200%"><feGaussianBlur stdDeviation="1.5"/></filter>
<filter id="bl4" x="-80%" y="-80%" width="260%" height="260%"><feGaussianBlur stdDeviation="2.2"/></filter>
<filter id="bl6" x="-20%" y="-150%" width="140%" height="400%"><feGaussianBlur stdDeviation="5.5 3.6"/></filter>
<filter id="bl5" x="-100%" y="-100%" width="300%" height="300%"><feGaussianBlur stdDeviation="3"/></filter>
<g id="shot">
<path d="M0.4,0.5 L8.4,0.5 L7.3,13.4 L1.5,13.4 Z" fill="#fff" stroke="#3a3a3a" stroke-width="0.8"/>
<path d="M1.1,9 L7.7,9 L7.3,13.4 L1.5,13.4 Z" fill="#000"/>
<path d="M0.8,2.6 L8,2.6" stroke="#444" stroke-width="0.6"/>
</g>
</defs>
<g transform="translate(640,515) scale(0.1666667)">
<path d="M305,55 L305,92 C305,120 280,125 280,160 L280,275 C280,292 295,297 322,297 C350,297 364,292 364,275 L364,160 C364,125 340,120 340,92 L340,55 Z" fill="#fff" stroke="#111" stroke-width="6"/>
<rect x="302" y="37" width="41" height="20" rx="3" fill="#000"/>
<ellipse cx="322" cy="106" rx="12" ry="8" fill="#000"/>
</g>
<rect x="790" y="539" width="131" height="17" fill="#a0a0a0" filter="url(#bl6)" opacity="0.95"/>
<use href="#shot" x="710.0" y="540.8" opacity="1.00"/>
<use href="#shot" x="722.4" y="540.8" opacity="1.00"/>
<use href="#shot" x="734.8" y="540.8" opacity="1.00" filter="url(#bl1)"/>
<use href="#shot" x="747.3" y="540.8" opacity="1.00" filter="url(#bl1)"/>
<use href="#shot" x="759.7" y="540.8" opacity="1.00" filter="url(#bl2)"/>
<use href="#shot" x="772.1" y="540.8" opacity="1.00" filter="url(#bl2)"/>
<use href="#shot" x="784.5" y="540.8" opacity="0.95" filter="url(#bl3)"/>
<use href="#shot" x="796.9" y="540.8" opacity="0.95" filter="url(#bl3)"/>
<use href="#shot" x="809.4" y="540.8" opacity="0.85" filter="url(#bl4)"/>
<use href="#shot" x="821.8" y="540.8" opacity="0.85" filter="url(#bl4)"/>
<use href="#shot" x="834.2" y="540.8" opacity="0.85" filter="url(#bl4)"/>
<use href="#shot" x="846.6" y="540.8" opacity="0.80" filter="url(#bl5)"/>
<use href="#shot" x="859.0" y="540.8" opacity="0.73" filter="url(#bl5)"/>
<use href="#shot" x="871.5" y="540.8" opacity="0.66" filter="url(#bl5)"/>
<use href="#shot" x="883.9" y="540.8" opacity="0.59" filter="url(#bl5)"/>
<use href="#shot" x="896.3" y="540.8" opacity="0.52" filter="url(#bl5)"/>
<use href="#shot" x="908.7" y="540.8" opacity="0.45" filter="url(#bl5)"/>
<use href="#shot" x="921.1" y="540.8" opacity="0.38" filter="url(#bl5)"/>
<!-- Sweden -->
<g transform="translate(680,575) scale(0.1041667)" fill="#fff" stroke="#1a1a1a" stroke-width="11" stroke-linejoin="round" stroke-linecap="round">
<rect x="389" y="31" width="510" height="399" rx="28" stroke-width="10"/>
<path d="M389,170 L290,180 L389,198" stroke-width="8"/>
<path d="M589,92 L690,140 L455,290 L562,368" fill="none" stroke="#1a1a1a" stroke-width="50"/>
<path d="M589,92 L690,140 L455,290 L562,368" fill="none" stroke="#fff" stroke-width="31"/>
<!-- man 1 -->
<path d="M192,168 C160,185 120,215 100,245 C110,275 140,290 160,300 L165,335 L158,420 L205,420 L210,335 L222,335 L228,420 L292,420 C275,410 265,400 262,388 L262,272 L330,294 L346,287 L336,277 L349,268 L339,258 L348,250 L330,245 L270,222 C262,200 250,180 238,168 Z"/>
<circle cx="215" cy="135" r="37"/>
<path d="M205,145 C212,155 228,152 234,140" fill="none" stroke-width="6"/>
<path d="M150,230 C160,250 165,275 160,300" fill="none" stroke-width="6"/>
</g>
<g transform="translate(825,575) scale(0.1041667)" fill="#fff" stroke="#1a1a1a" stroke-width="11" stroke-linejoin="round" stroke-linecap="round">
<!-- wtf bubble -->
<path d="M105,50 C160,50 200,72 200,100 C200,115 190,128 172,137 L250,166 L150,147 C135,150 120,150 105,150 C50,150 10,128 10,100 C10,72 50,50 105,50 Z"/>
<!-- cord -->
<path d="M345,205 C320,260 370,330 405,380 C440,410 520,420 580,400 C600,392 602,375 600,358" fill="none" stroke-width="8"/>
<!-- man 2 -->
<path d="M275,166 C245,180 215,205 205,235 C215,265 245,280 262,290 L268,335 L258,425 L305,425 L312,340 L325,340 L335,425 L392,425 C378,412 370,400 368,385 L352,300 C372,275 405,250 428,218 L385,172 L350,150 L335,170 Z"/>
<circle cx="300" cy="135" r="38"/>
<path d="M345,150 C365,155 372,185 352,200 C342,185 340,165 345,150 Z" fill="#ccc" stroke-width="6"/>
<path d="M255,215 C262,240 266,265 262,290" fill="none" stroke-width="6"/>
<ellipse cx="415" cy="392" rx="14" ry="20" stroke-width="7"/>
<!-- store -->
<rect x="512" y="158" width="290" height="197" stroke-width="10"/>
<path d="M512,262 L802,262" stroke-width="7"/>
<rect x="620" y="285" width="95" height="70" stroke-width="9"/>
<path d="M668,285 L668,355" stroke-width="7"/>
<path d="M803,78 L803,380 M860,98 L860,420 M915,118 L915,432" stroke-width="9" fill="none"/>
<path d="M803,80 L858,98 L858,200 L803,188 Z M860,100 L913,118 L913,212 L860,204 Z M915,120 L940,130 L940,216 L915,212 Z" stroke-width="7"/>
<path d="M803,262 L915,285 M803,355 L915,325 M803,200 L915,232" stroke-width="5" fill="none"/>
</g>
<g font-family="Liberation Sans, sans-serif" fill="#111">
<text x="682" y="619.5" font-size="15" stroke="#111" stroke-width="0.25">1.</text>
<text x="755.6" y="606.5" font-size="14.5">x1</text>
<text x="829.3" y="619.7" font-size="15" stroke="#111" stroke-width="0.25">2.</text>
</g>
<text x="883.8" y="599.6" font-family="Liberation Sans, sans-serif" font-weight="bold" font-size="5.6" fill="#111" stroke="#111" stroke-width="0.35" textLength="22" lengthAdjust="spacingAndGlyphs">IKEA</text>
<text x="829.2" y="587.9" font-family="Liberation Sans, sans-serif" font-weight="bold" font-size="5.4" fill="#111" stroke="#111" stroke-width="0.3" textLength="13.6" lengthAdjust="spacingAndGlyphs">WTF!</text>
<!-- Jamaica: joint -->
<g transform="translate(640,640) scale(0.15625)">
<path d="M110,135 L300,115 L520,100 L660,95 L690,105 L710,125 L745,130 L748,148 L715,152 L690,180 L660,192 L470,195 L250,185 L115,170 Z" fill="#000"/>
<g fill="none" stroke="#fff" stroke-width="13">
<path d="M182,155 L188,122 L215,125 L218,140 L195,142"/>
<path d="M342,135 L352,180 M350,160 C365,145 395,150 392,168 C388,185 365,188 352,180"/>
<path d="M250,150 L240,188 M500,100 L478,125"/>
<path d="M555,185 C560,165 585,160 600,175"/>
</g>
</g>
</g>
</svg>

</div>
</body>
</html>
